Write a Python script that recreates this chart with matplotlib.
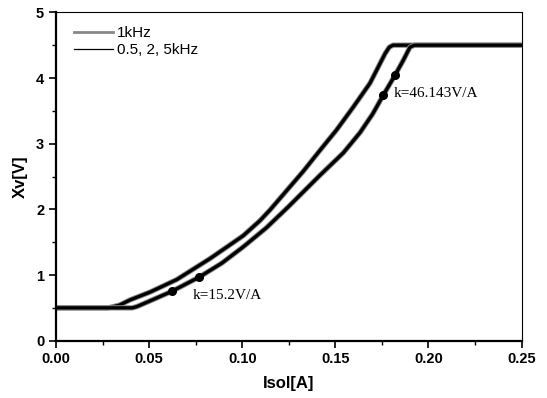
import matplotlib.pyplot as plt
from matplotlib.ticker import MultipleLocator

# upper branch (rises first)
up_x = [0.0, 0.028, 0.034, 0.0397, 0.0505, 0.0648, 0.0827, 0.1006, 0.1096, 0.1149, 0.1328,
        0.1418, 0.1507, 0.1597, 0.1686, 0.1740, 0.1767, 0.1790, 0.1810, 0.25]
up_y = [0.5, 0.5, 0.54, 0.62, 0.74, 0.93, 1.25, 1.60, 1.83, 1.99, 2.58,
        2.90, 3.21, 3.56, 3.92, 4.22, 4.37, 4.47, 4.5, 4.5]

# lower branch (rises later)
lo_x = [0.0, 0.041, 0.0435, 0.050, 0.0621, 0.0770, 0.0890, 0.1006, 0.1130, 0.1248, 0.1418,
        0.1543, 0.1633, 0.1700, 0.1758, 0.1820, 0.1865, 0.1901, 0.1925, 0.25]
lo_y = [0.5, 0.5, 0.52, 0.60, 0.75, 0.97, 1.18, 1.43, 1.72, 2.04, 2.52,
        2.86, 3.17, 3.45, 3.74, 4.04, 4.27, 4.47, 4.5, 4.5]

dot_x = [0.0621, 0.0770, 0.1758, 0.1820]
dot_y = [0.75, 0.97, 3.74, 4.04]

fig = plt.figure(figsize=(5.47, 3.98), dpi=100)
ax = fig.add_axes([0.1024, 0.144, 0.851, 0.825])

for xs, ys in [(up_x, up_y), (lo_x, lo_y)]:
    ax.plot(xs, ys, color='#888888', lw=3.8, solid_capstyle='butt')
    ax.plot(xs, ys, color='black', lw=2.4)
ax.plot(dot_x, dot_y, 'o', color='black', ms=5.5)

# legend handles
g, = ax.plot([], [], color='#888888', lw=2.0)
b, = ax.plot([], [], color='black', lw=0.9)
ax.legend([g, b], ['1kHz', '0.5, 2, 5kHz'], loc='upper left', frameon=False,
          prop={'family': 'Liberation Sans', 'size': 11},
          handlelength=2.5, handletextpad=0.3, labelspacing=0.2,
          bbox_to_anchor=(0.02, 0.985), borderaxespad=0.2)

ax.text(0.1812, 3.77, 'k=46.143V/A', family='Liberation Serif', fontsize=11, va='center')
ax.text(0.0736, 0.685, 'k=15.2V/A', family='Liberation Serif', fontsize=11, va='center')

ax.set_xlim(0, 0.25)
ax.set_ylim(0, 5)
ax.xaxis.set_major_locator(MultipleLocator(0.05))
ax.xaxis.set_minor_locator(MultipleLocator(0.025))
ax.yaxis.set_major_locator(MultipleLocator(1))
ax.yaxis.set_minor_locator(MultipleLocator(0.5))
ax.xaxis.set_major_formatter(plt.FormatStrFormatter('%.2f'))
ax.tick_params(which='major', direction='out', length=5, width=1.2)
ax.tick_params(which='minor', direction='out', length=3, width=1)
ax.tick_params(labelsize=10.5)
for lab in ax.get_xticklabels() + ax.get_yticklabels():
    lab.set_fontweight('bold')
    lab.set_family('Liberation Sans')
ax.spines['left'].set_linewidth(1.6)
ax.spines['bottom'].set_linewidth(1.6)
ax.spines['top'].set_linewidth(0.8)
ax.spines['right'].set_linewidth(0.8)

ax.set_xlabel('Isol[A]', fontweight='bold', family='Liberation Sans', fontsize=12, labelpad=7)
ax.set_ylabel('Xv[V]', fontweight='bold', family='Liberation Sans', fontsize=12, labelpad=6)

fig.savefig('out.png', dpi=100)
